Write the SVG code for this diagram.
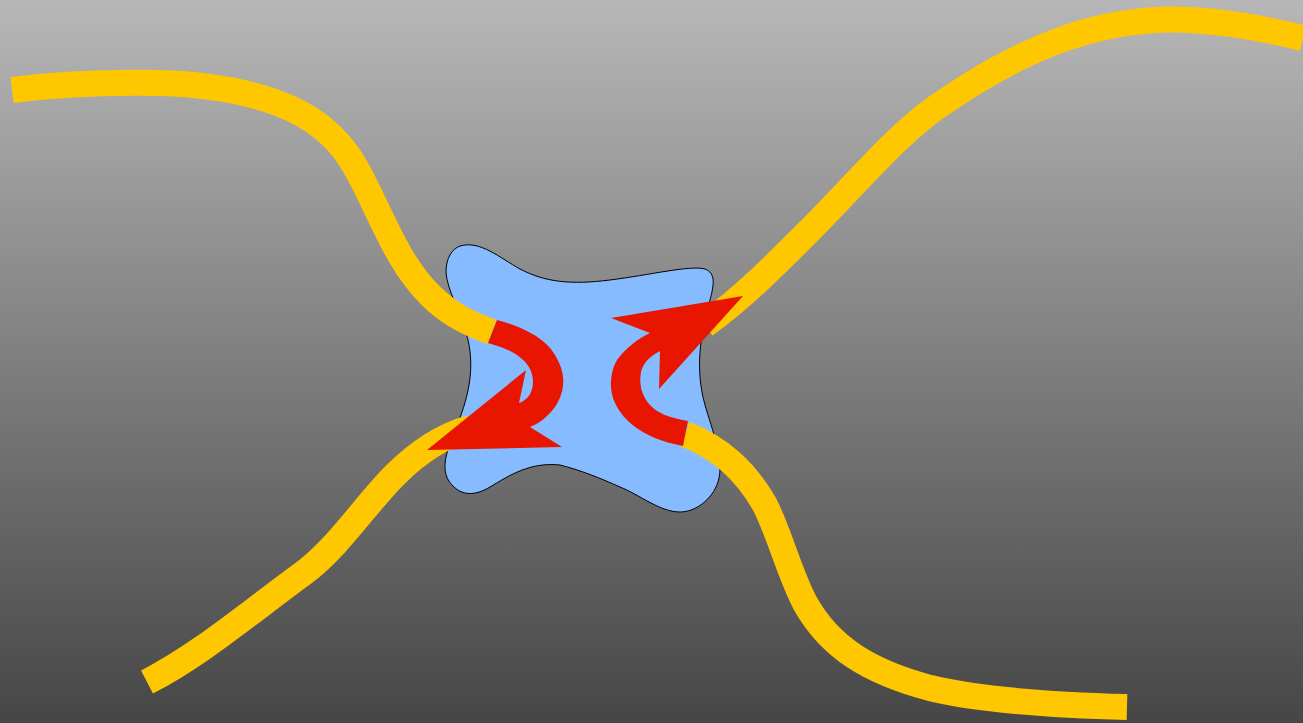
<svg xmlns="http://www.w3.org/2000/svg" width="1303" height="723" viewBox="0 0 1303 723">
<defs>
<linearGradient id="bg" x1="0" y1="0" x2="0" y2="1">
<stop offset="0" stop-color="#b7b7b7"/>
<stop offset="1" stop-color="#464646"/>
</linearGradient>
<style>
.cable{fill:none;stroke:#ffc700;stroke-width:26;stroke-linecap:butt}
.arrow{fill:#e81600;stroke:none}
.blob{fill:#86bcff;stroke:#000;stroke-width:1}
</style>
</defs>
<rect id="background" x="0" y="0" width="1303" height="723" fill="url(#bg)"/>
<g id="blob">
<path class="blob" d="M460,246 C480,240 500,258 520,269 C545,282 570,285 610,280 C650,275 690,265 705,269 C716,273 714,285 710,300 C700,335 695,370 705,405 C712,430 725,460 718,482 C712,500 695,512 680,512 C660,512 640,495 620,487 C600,478 580,470 560,465 C530,462 510,475 490,487 C475,496 462,496 452,485 C440,472 445,455 455,430 C468,400 475,370 468,340 C460,310 447,290 446,272 C446,258 452,249 460,246 Z"/>
</g>
<g id="connectors">
<path class="cable" d="M12,90 C60,84 110,82 160,83 C230,85 290,100 325,130 C345,147 355,165 365,185 C385,225 400,265 430,295 C450,315 470,324 492,332"/>
<path class="cable" d="M705,325 C740,300 770,270 810,230 C860,180 900,130 947,100 C1020,50 1100,15 1190,20 C1230,22 1270,30 1303,38"/>
<path class="cable" d="M147,682 C200,655 250,612 305,572 C340,545 365,505 395,475 C420,450 445,435 470,428"/>
<path class="cable" d="M685,434 C720,448 745,470 765,505 C780,535 790,575 805,603 C830,648 870,672 930,688 C980,700 1050,705 1127,707"/>
</g>
<g id="arrow-left">
<path class="arrow" d="M497,320 C520,326 545,337 555,355 C562,367 564,376 563,385 C562,402 548,420 530,427 L562,447 L427,450 L526,370 L519,403 C528,400 533,392 533,382 C533,370 527,362 517,355 C508,349 498,346 488,343 Z"/>
</g>
<g id="arrow-right">
<path class="arrow" d="M688,421 C670,418 657,413 650,405 C641,395 639,383 641,372 C643,363 650,356 660,351 L659,389 L743,296 L611,318 L650,333 C637,339 625,349 617,360 C611,370 609,385 613,398 C620,418 640,438 683,446 Z"/>
</g>
</svg>
